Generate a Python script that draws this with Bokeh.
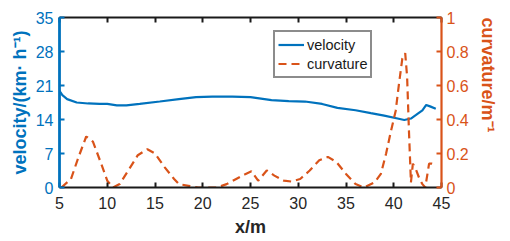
import math
from bokeh.plotting import figure
from bokeh.models import LinearAxis, Range1d, FixedTicker, Legend, LegendItem
from bokeh.embed import file_html
from bokeh.resources import INLINE

# ---- data ----
vel_x = [5.0, 5.3, 5.8, 6.8, 8.0, 9.2, 10.0, 11.0, 12.0, 13.4, 15.5, 17.5, 19.3, 21.0, 23.1,
         25.0, 27.2, 29.0, 30.7, 32.5, 34.1, 36.0, 37.6, 39.0, 40.4, 41.1, 41.8, 42.3, 43.0,
         43.4, 43.8, 44.4]
vel_y = [19.9, 19.0, 18.2, 17.5, 17.3, 17.2, 17.2, 16.9, 16.9, 17.2, 17.7, 18.2, 18.6, 18.7, 18.7,
         18.6, 18.0, 17.8, 17.7, 17.2, 16.4, 15.9, 15.3, 14.8, 14.2, 13.9, 14.2, 14.9, 15.9,
         17.0, 16.7, 16.2]

curv_x = [5.2, 6.2, 7.0, 7.8, 8.5, 9.3, 10.0, 10.6, 11.3, 12.2, 13.2, 14.2, 15.0, 16.0, 17.0,
          17.5, 18.5, 19.5, 20.5, 21.5, 22.5, 23.5, 24.5, 25.1, 25.8, 26.7, 27.5, 28.5, 29.3,
          30.2, 31.2, 32.2, 33.1, 34.0, 35.0, 36.0, 36.9, 38.0, 38.65, 39.2, 39.7, 40.2, 40.55,
          40.9, 41.2, 41.4, 41.6, 41.8, 42.0, 42.3, 42.7, 43.0, 43.3, 43.5, 43.7, 44.0, 44.4]
curv_y = [0.0, 0.05, 0.18, 0.30, 0.27, 0.15, 0.04, 0.0, 0.02, 0.10, 0.19, 0.225, 0.20, 0.12, 0.05,
          0.02, 0.01, 0.0, 0.0, 0.0, 0.02, 0.05, 0.08, 0.095, 0.04, 0.10, 0.07, 0.04, 0.035,
          0.05, 0.10, 0.16, 0.18, 0.15, 0.08, 0.02, 0.0, 0.03, 0.08, 0.20, 0.33, 0.45, 0.61,
          0.76, 0.79, 0.65, 0.32, 0.03, 0.14, 0.11, 0.05, 0.02, 0.0, 0.07, 0.14, 0.14, 0.13]

x_ticks = [5, 10, 15, 20, 25, 30, 35, 40, 45]
vel_ticks = [0, 7, 14, 21, 28, 35]
curv_ticks = [0, 0.2, 0.4, 0.6, 0.8, 1.0]
curv_tick_labels = ["0", "0.2", "0.4", "0.6", "0.8", "1"]

BLUE = "#0072BD"
ORANGE = "#D95319"
DARK = "#262626"
FONT = "Liberation Sans"

p = figure(width=510, height=240, output_backend="svg", toolbar_location=None,
           x_range=Range1d(5, 45), y_range=Range1d(0, 35),
           min_border_left=59, min_border_right=65, min_border_top=17, min_border_bottom=53,
           x_axis_location=None, y_axis_location=None)
p.extra_y_ranges = {"curv": Range1d(0, 1)}
p.xgrid.visible = False
p.ygrid.visible = False
p.outline_line_color = None
p.background_fill_color = "white"
p.border_fill_color = "white"

def style(ax, color, lw=2.2):
    ax.axis_line_color = color
    ax.axis_line_width = lw
    ax.major_tick_line_color = color
    ax.major_tick_line_width = 2
    ax.major_tick_in = 5
    ax.major_tick_out = 0
    ax.minor_tick_line_color = None
    ax.major_label_text_font = FONT
    ax.major_label_text_font_size = "16px"
    ax.axis_label_text_font = FONT
    ax.axis_label_text_font_size = "18px"
    ax.axis_label_text_font_style = "bold"

# bottom axis
xb = LinearAxis(ticker=FixedTicker(ticks=x_ticks), axis_label="x/m")
style(xb, "#1a1a1a")
xb.major_label_text_color = DARK
xb.axis_label_text_color = DARK
xb.major_label_standoff = 9
xb.axis_label_standoff = 5
p.add_layout(xb, "below")

# top axis (box line)
xt = LinearAxis(ticker=FixedTicker(ticks=x_ticks))
style(xt, "#1a1a1a")
xt.major_label_text_font_size = "0px"
xt.major_label_standoff = 0
p.add_layout(xt, "above")

# left axis
yl = LinearAxis(ticker=FixedTicker(ticks=vel_ticks), axis_label="velocity/(km· h⁻¹)")
style(yl, BLUE, 2.8)
yl.major_label_text_color = BLUE
yl.axis_label_text_color = BLUE
yl.major_label_standoff = 6
yl.axis_label_standoff = 3
p.add_layout(yl, "left")

# right axis: line, ticks and tick labels
yr = LinearAxis(y_range_name="curv", ticker=FixedTicker(ticks=curv_ticks))
style(yr, ORANGE)
yr.major_label_overrides = {t: l for t, l in zip(curv_ticks, curv_tick_labels)}
yr.major_label_text_color = ORANGE
yr.major_label_standoff = 5
p.add_layout(yr, "right")

# right axis title only (reads bottom-to-top), placed with bounds
yr2 = LinearAxis(y_range_name="curv", ticker=FixedTicker(ticks=[]),
                 axis_label="curvature/m⁻¹", bounds=(0.0, 0.83))
style(yr2, ORANGE)
yr2.axis_line_color = None
yr2.major_tick_line_color = None
yr2.major_label_text_font_size = "0px"
yr2.major_label_standoff = 0
yr2.axis_label_text_color = ORANGE
yr2.axis_label_standoff = 16
yr2.axis_label_orientation = -math.pi / 2
yr2.axis_label_align = "end"
p.add_layout(yr2, "right")

r_vel = p.line(vel_x, vel_y, line_color=BLUE, line_width=2.2)
r_curv = p.line(curv_x, curv_y, y_range_name="curv", line_color=ORANGE, line_width=2.2,
                line_dash="8 5")

legend = Legend(items=[LegendItem(label="velocity", renderers=[r_vel]),
                       LegendItem(label="curvature", renderers=[r_curv])],
                location=(214, 109), orientation="vertical")
legend.border_line_color = "#1a1a1a"
legend.border_line_width = 2
legend.background_fill_color = "white"
legend.background_fill_alpha = 1
legend.label_text_font = FONT
legend.label_text_font_size = "14.5px"
legend.label_text_color = "#1a1a1a"
legend.glyph_width = 26
legend.glyph_height = 19
legend.label_height = 19
legend.label_standoff = 3
legend.padding = 3
legend.spacing = 0
legend.margin = 0
p.add_layout(legend, "center")

open("out.html", "w").write(file_html(p, INLINE))
